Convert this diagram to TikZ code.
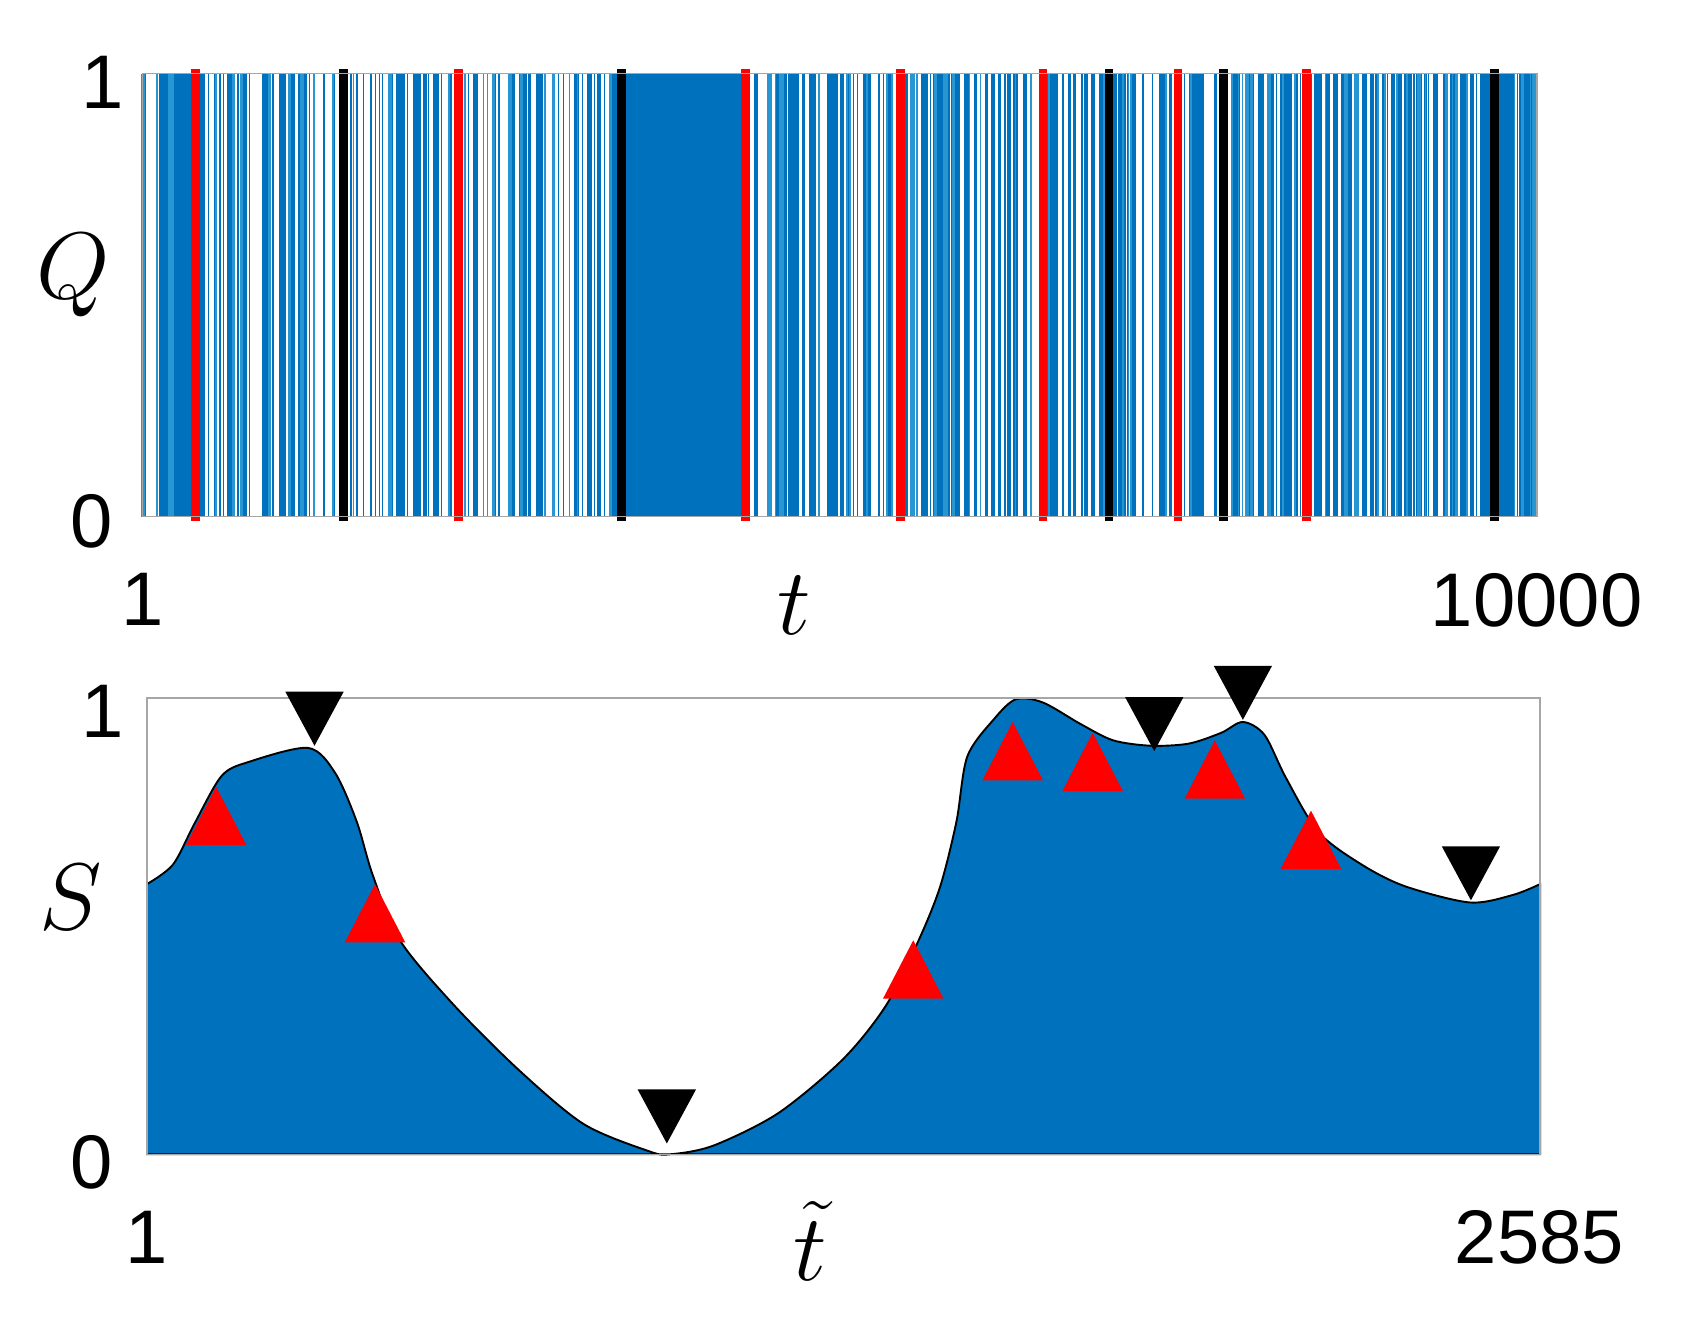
\documentclass[tikz,border=0pt]{standalone}
\usepackage{fontspec}
\setmainfont{Liberation Sans}
\definecolor{mblue}{RGB}{0,114,189}
\definecolor{lblue}{RGB}{40,150,210}
\begin{document}
\begin{tikzpicture}[x=0.01cm,y=-0.01cm,
  tick/.style={font=\fontsize{20}{20}\selectfont},
  axl/.style={font=\fontsize{30}{30}\selectfont}]
\useasboundingbox (0,0) rectangle (1560,1235);
% top panel
\fill[mblue] (132,68) rectangle (1422,478);
\pgfmathsetseed{7}
\foreach \i in {1,...,480}{
  \pgfmathsetmacro\xx{132+1290*rnd}
  \pgfmathsetmacro\ok{(\xx<578 || \xx>688) ? 1 : 0}
  \pgfmathsetmacro\ww{0.25+0.7*rnd}
  \pgfmathsetmacro\cc{rnd}
  \ifdim\ok pt>0.5pt
    \ifdim\cc pt>0.3pt
      \draw[white,line width=\ww pt] (\xx,68) -- (\xx,478);
    \else
      \draw[lblue,line width=\ww pt] (\xx,68) -- (\xx,478);
    \fi
  \fi
}
\foreach \xx in {181,424,690,833,965,1090,1209}
  \draw[red,line width=2.3pt] (\xx,64) -- (\xx,482);
\foreach \xx in {318,575,1026,1132,1383}
  \draw[black,line width=2.3pt] (\xx,64) -- (\xx,482);
\draw[gray!70,line width=0.4pt] (132,68) rectangle (1422,478);
\node[tick] (q1) at (95,76) {1};
\node[tick] (q0) at (85,482) {0};
\node[tick] (t1) at (132,555) {1};
\node[tick,anchor=east] (t2) at (1532,555) {10000};
\node[axl] (tl) at (735,560) {$t$};
\node[axl] (ql) at (68,255) {$Q$};
% bottom panel
\fill[mblue,draw=black,line width=0.5pt] (136,1068) -- (136,818) -- plot[smooth,tension=0.5] coordinates {
(136,818)(160,800)(180,762)(205,718)(230,705)(285,692)(310,715)(330,760)(345,810)(370,870)(420,930)(480,990)(540,1040)(600,1065)(620,1068)(660,1060)(720,1030)(780,980)(820,930)(850,870)(870,820)(885,760)(895,700)(920,665)(940,647)(965,650)(1000,670)(1030,685)(1065,690)(1100,688)(1130,678)(1150,668)(1170,680)(1190,720)(1220,770)(1260,800)(1300,820)(1360,835)(1400,828)(1425,818)} -- (1425,1068) -- cycle;
\draw[gray!70,line width=0.4pt] (136,646) rectangle (1425,1068);
\foreach \ax/\ay in {200/728,347/818,845/870,937/668,1011/678,1124/685,1213/750}
  \fill[red] (\ax,\ay) -- ++(28,54) -- ++(-56,0) -- cycle;
\foreach \ax/\ay in {291/690,617/1058,1068/695,1150/666,1361/833}
  \fill[black] (\ax,\ay) -- ++(27,-50) -- ++(-54,0) -- cycle;
\node[tick] (s1) at (95,658) {1};
\node[tick] (s0) at (85,1075) {0};
\node[tick] (u1) at (136,1145) {1};
\node[tick,anchor=east] (u2) at (1515,1145) {2585};
\node[axl] (ul) at (750,1148) {$\tilde{t}$};
\node[axl] (sl) at (65,830) {$S$};
\end{tikzpicture}
\end{document}
